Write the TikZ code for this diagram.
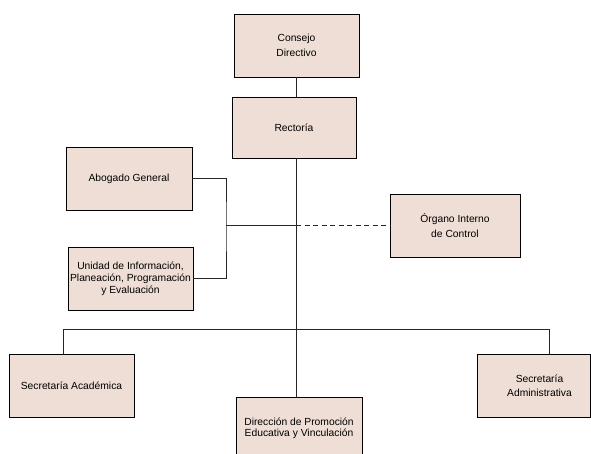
\documentclass[tikz,border=0pt]{standalone}
\usepackage{fontspec}
\setmainfont{Liberation Sans}
\definecolor{boxfill}{RGB}{238,222,213}
\tikzset{
  orgbox/.style={draw=black, line width=0.9pt, fill=boxfill, inner sep=0pt,
    align=center, font=\fontsize{10.3}{12}\selectfont},
  conn/.style={draw=black!85, line width=0.9pt},
  dashconn/.style={conn, dashed, dash pattern=on 5pt off 3.5pt}
}
\begin{document}
\begin{tikzpicture}[x=1pt,y=-1pt]
\useasboundingbox (0,0) rectangle (591,454);
\clip (0,0) rectangle (591,454);
% boxes
\node[orgbox, minimum width=125, minimum height=63, font=\fontsize{10.3}{15.5}\selectfont] (consejo) at (296.5,45.5) {Consejo\\ Directivo};
\node[orgbox, minimum width=124, minimum height=61] (rectoria) at (294,127.5) {Rectoría};
\node[orgbox, minimum width=126, minimum height=63] (abogado) at (129,178.5) {Abogado General};
\node[orgbox, minimum width=125, minimum height=63] (unidad) at (130.5,278.5) {Unidad de Información,\\Planeación, Programación\\y Evaluación};
\node[orgbox, minimum width=130, minimum height=63, font=\fontsize{10.3}{15}\selectfont] (organo) at (455,225.5) {Órgano Interno\\de Control};
\node[orgbox, minimum width=125, minimum height=63] (sacad) at (71.5,385.5) {Secretaría Académica};
\node[orgbox, minimum width=126, minimum height=63, font=\fontsize{10.3}{11.5}\selectfont] (direccion) at (299,428.5) {Dirección de Promoción\\Educativa y Vinculación};
\node[orgbox, minimum width=113, minimum height=63, font=\fontsize{10.3}{14}\selectfont] (sadmin) at (533.5,385.5) {\hspace*{12pt}Secretaría\\\hspace*{12pt}Administrativa};
% junction coordinates
\coordinate (busc) at (296,329);
\coordinate (busl) at (63,329);
\coordinate (busr) at (549,329);
\coordinate (jl) at (226,225);
\coordinate (jm) at (296,225);
% connectors
\draw[conn] (consejo.south) -- (consejo.south |- rectoria.north);
\draw[conn] (rectoria.south -| busc) -- (busc);
\draw[conn] (busl) -- (busr);
\draw[conn] (busl) -- (busl |- sacad.north);
\draw[conn] (busc) -- (busc |- direccion.north);
\draw[conn] (busr) -- (busr |- sadmin.north);
\draw[conn] (abogado.east) -| (jl) |- (unidad.east);
\draw[conn] (jl) -- (jm);
\draw[dashconn] (jm) -- (organo.west |- jm);
\end{tikzpicture}
\end{document}
